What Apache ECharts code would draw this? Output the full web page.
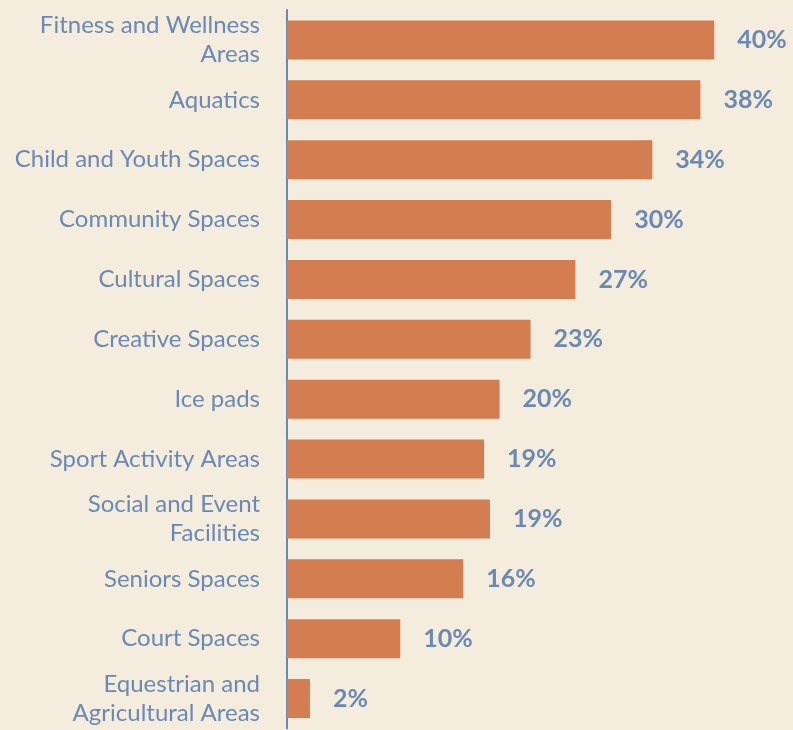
<!DOCTYPE html>
<html>
<head>
<meta charset="utf-8">
<script src="https://cdn.jsdelivr.net/npm/echarts@6/dist/echarts.min.js"></script>
<style>
  html, body { margin: 0; padding: 0; background: #F4ECDC; }
  #chart { width: 793px; height: 730px; }
</style>
</head>
<body>
<div id="chart"></div>
<script>
const categories = [
  'Fitness and Wellness\nAreas',
  'Aquatics',
  'Child and Youth Spaces',
  'Community Spaces',
  'Cultural Spaces',
  'Creative Spaces',
  'Ice pads',
  'Sport Activity Areas',
  'Social and Event\nFacilities',
  'Seniors Spaces',
  'Court Spaces',
  'Equestrian and\nAgricultural Areas'
]
// bar lengths
const values = [40, 38.7, 34.2, 30.35, 27, 22.8, 19.9, 18.45, 19, 16.5, 10.6, 2.15]
// printed labels
const valueLabels = ['40%', '38%', '34%', '30%', '27%', '23%', '20%', '19%', '19%', '16%', '10%', '2%']

const textColor = '#6A89B5'
const myChart = echarts.init(document.getElementById('chart'))
myChart.setOption({
  backgroundColor: '#F4ECDC',
  grid: {
    left: 287,
    right: 36,
    top: 10,
    bottom: 0
  },
  xAxis: {
    type: 'value',
    min: 0,
    max: 44,
    show: false
  },
  yAxis: {
    type: 'category',
    inverse: true,
    data: categories,
    axisLine: {
      lineStyle: { color: textColor, width: 2 }
    },
    axisTick: { show: false },
    axisLabel: {
      color: textColor,
      fontFamily: 'Lato',
      fontSize: 24,
      lineHeight: 29,
      align: 'right',
      margin: 27,
      padding: [5, 0, 0, 0]
    }
  },
  series: [
    {
      type: 'bar',
      data: values,
      barWidth: 39,
      itemStyle: { color: '#D37D51' },
      label: {
        show: true,
        position: 'right',
        distance: 23,
        color: textColor,
        fontFamily: 'Lato',
        fontWeight: 'bold',
        fontSize: 25,
        formatter: (p) => valueLabels[p.dataIndex]
      }
    }
  ]
})
</script>
</body>
</html>
